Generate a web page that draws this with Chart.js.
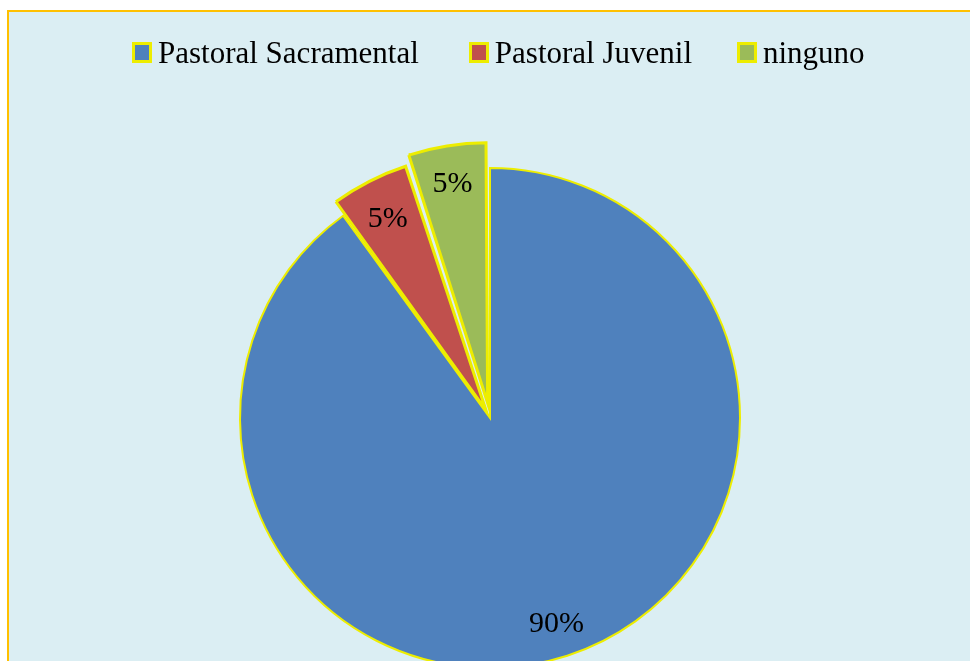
<!DOCTYPE html>
<html>
<head>
<meta charset="utf-8">
<script src="https://cdn.jsdelivr.net/npm/chart.js@4.4.0/dist/chart.umd.min.js"></script>
<style>
  html, body { margin: 0; padding: 0; background: #ffffff; width: 970px; height: 661px; overflow: hidden; position: relative; }
  #frame { position: absolute; left: 7px; top: 10px; width: 1000px; height: 1000px; background: #DBEEF3; border: 2px solid #FFC000; box-sizing: border-box; }
  #c { position: absolute; left: 0; top: 0; }
  #legend { position: absolute; left: 132px; top: 37px; height: 31px; display: flex; align-items: center; font-family: "Liberation Serif", "Times New Roman", serif; font-size: 31px; line-height: 31px; color: #000; white-space: nowrap; }
  .item { display: flex; align-items: center; }
  .item:nth-child(1) { margin-right: 50px; }
  .item:nth-child(2) { margin-right: 45px; }
  .box { width: 14px; height: 15px; border: 3px solid #EDED00; margin-right: 6px; }
</style>
</head>
<body>
<div id="frame"></div>
<canvas id="c" width="970" height="836"></canvas>
<div id="legend"></div>
<script>
const categories = ['Pastoral Sacramental', 'Pastoral Juvenil', 'ninguno'];
const percentValues = [90, 5, 5];
const valueLabels = ['90%', '5%', '5%'];

const sliceColors = ['#4F81BD', '#C0504D', '#9BBB59'];
const sliceOffsets = [0, 37, 60];

// HTML legend
const legendEl = document.getElementById('legend');
categories.forEach((name, i) => {
  const item = document.createElement('div');
  item.className = 'item';
  const box = document.createElement('span');
  box.className = 'box';
  box.style.background = sliceColors[i];
  const txt = document.createElement('span');
  txt.textContent = name;
  item.appendChild(box);
  item.appendChild(txt);
  legendEl.appendChild(item);
});

const labelPlugin = {
  id: 'sliceLabels',
  afterDatasetsDraw(chart) {
    const ctx = chart.ctx;
    const meta = chart.getDatasetMeta(0);
    ctx.save();
    ctx.font = '30px "Liberation Serif", "Times New Roman", serif';
    ctx.fillStyle = '#000';
    ctx.textAlign = 'center';
    ctx.textBaseline = 'middle';
    meta.data.forEach((arc, i) => {
      const p = arc.getProps(['x', 'y', 'startAngle', 'endAngle', 'outerRadius'], true);
      const mid = (p.startAngle + p.endAngle) / 2;
      const extra = [0, 10, 24][i];
      const r = p.outerRadius * 0.86 + extra;
      ctx.fillText(valueLabels[i], p.x + Math.cos(mid) * r, p.y + Math.sin(mid) * r + 2);
    });
    ctx.restore();
  }
};

new Chart(document.getElementById('c'), {
  type: 'pie',
  data: {
    labels: categories,
    datasets: [{
      data: percentValues,
      backgroundColor: sliceColors,
      borderColor: '#EDED00',
      borderWidth: [2, 3, 3],
      offset: sliceOffsets,
      borderJoinStyle: 'miter'
    }]
  },
  options: {
    responsive: false,
    animation: false,
    radius: 250,
    layout: { padding: { left: 10, right: 0, top: 0, bottom: 0 } },
    plugins: {
      legend: { display: false },
      tooltip: { enabled: false }
    }
  },
  plugins: [labelPlugin]
});
</script>
</body>
</html>
